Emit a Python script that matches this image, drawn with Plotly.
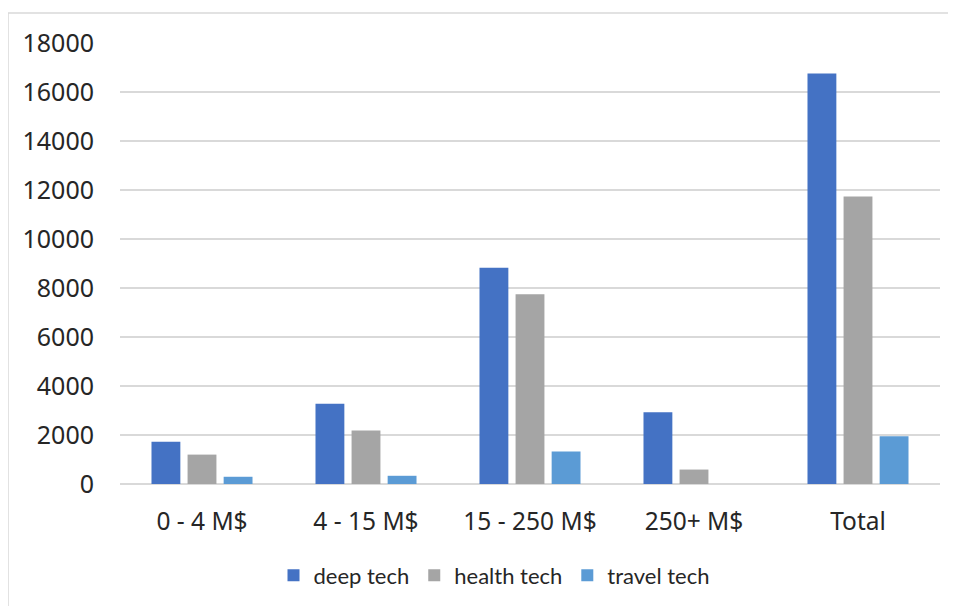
import plotly.graph_objects as go

categories = ["0 - 4 M$", "4 - 15 M$", "15 - 250 M$", "250+ M$", "Total"]
deep_tech = [1720, 3280, 8830, 2930, 16760]
health_tech = [1200, 2180, 7750, 590, 11730]
travel_tech = [295, 335, 1325, 0, 1950]
y_ticks = [0, 2000, 4000, 6000, 8000, 10000, 12000, 14000, 16000, 18000]
y_tick_text = [str(v) for v in y_ticks]

# page body has an 8px offset; compensate so screenshot positions match
OFF = 8
W, H = 956, 606
L, R, T, B = 120 - OFF, 16 + OFF, 43 - OFF, 121.5 + OFF

fig = go.Figure()
for name, vals, col in [("deep tech", deep_tech, "#4472C4"),
                        ("health tech", health_tech, "#A5A5A5"),
                        ("travel tech", travel_tech, "#5B9BD5")]:
    fig.add_trace(go.Bar(name=name, x=categories, y=vals, marker=dict(color=col, line=dict(width=0))))

pw = W - L - R
ph = H - T - B
# screenshot coords -> paper coords
def px(x):
    return (x - OFF - L) / pw
def py(y):
    return (H - B - (y - OFF)) / ph

fig.add_shape(type="rect", xref="paper", yref="paper",
              x0=px(8), x1=px(950), y0=py(660), y1=py(13),
              line=dict(color="#d9d9d9", width=1.5), fillcolor="rgba(0,0,0,0)", layer="below")

fig.update_layout(
    width=W, height=H,
    margin=dict(l=L, r=R, t=T, b=B, pad=0),
    paper_bgcolor="white", plot_bgcolor="white",
    barmode="group", bargap=0.34, bargroupgap=0.2,
    font=dict(family="Noto Sans", size=24, color="#262626"),
    xaxis=dict(showline=False, ticks="", tickfont=dict(size=24.5), ticklabelstandoff=20),
    yaxis=dict(range=[0, 18000], tickvals=y_ticks, ticktext=y_tick_text, showgrid=True,
               gridcolor="#d9d9d9", gridwidth=1.5, zeroline=True, zerolinecolor="#d9d9d9",
               zerolinewidth=1.5, tickfont=dict(size=25), ticks="", ticklabelstandoff=25,
               showline=False),
    legend=dict(orientation="h", x=px(494), xanchor="center",
                y=py(576), yanchor="middle",
                font=dict(family="Lato", size=22, color="#262626"),
                itemwidth=30, traceorder="normal"),
    showlegend=True,
)
fig.write_html("out.html")
